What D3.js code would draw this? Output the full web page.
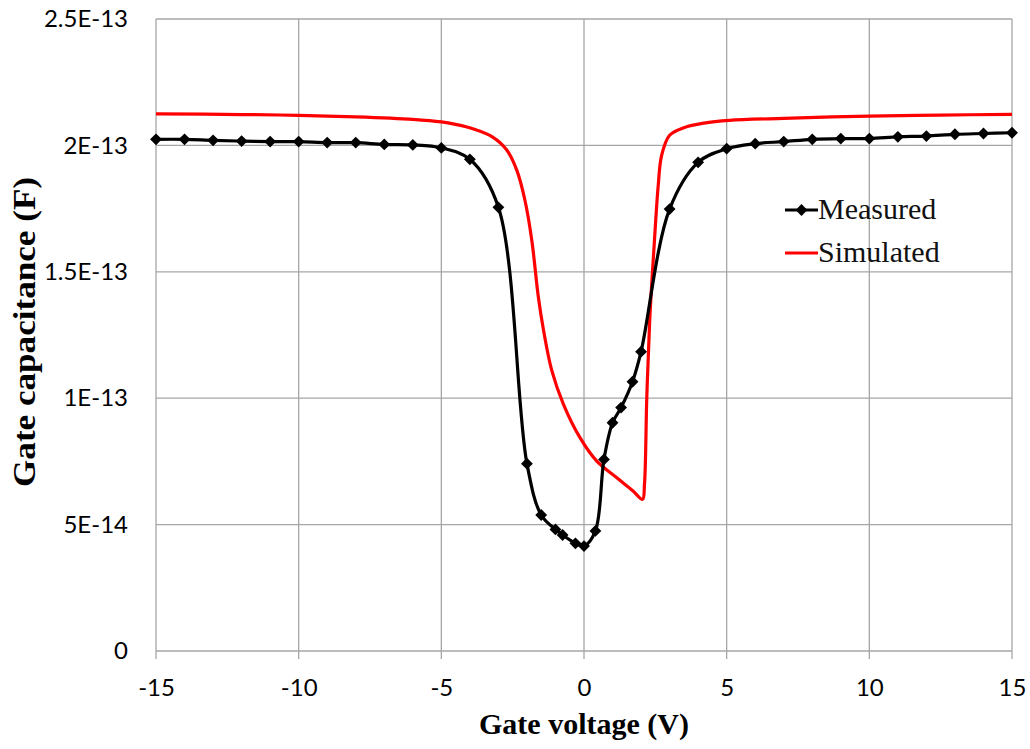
<!DOCTYPE html>
<html>
<head>
<meta charset="utf-8">
<script src="https://cdn.jsdelivr.net/npm/d3@7"></script>
<style>
  body { margin: 0; background: #fff; }
  svg { display: block; }
  .tick text { font-family: Lato, "Open Sans", sans-serif; font-size: 24px; fill: #000; }
  .title { font-family: "Liberation Serif", "DejaVu Serif", serif; font-weight: bold; fill: #000; }
  .legend text { font-family: "Liberation Serif", "DejaVu Serif", serif; font-size: 30px; fill: #111; }
</style>
</head>
<body>
<svg id="chart" width="1030" height="749"></svg>
<script>
// Measured C-V points
const measuredV = [-15, -14, -13, -12, -11, -10, -9, -8, -7, -6, -5, -4, -3, -2, -1.5, -1, -0.75, -0.3, 0,
  0.4, 0.7, 1, 1.3, 1.7, 2, 3, 4, 5, 6, 7, 8, 9, 10, 11, 12, 13, 14, 15];
const measuredC = [2.024e-13, 2.024e-13, 2.02e-13, 2.017e-13, 2.015e-13, 2.015e-13, 2.011e-13, 2.011e-13,
  2.004e-13, 2.002e-13, 1.99e-13, 1.945e-13, 1.755e-13, 7.41e-14, 5.38e-14, 4.81e-14, 4.59e-14, 4.26e-14, 4.15e-14,
  4.75e-14, 7.58e-14, 9.03e-14, 9.63e-14, 1.065e-13, 1.184e-13, 1.748e-13, 1.933e-13, 1.987e-13, 2.007e-13,
  2.015e-13, 2.024e-13, 2.027e-13, 2.027e-13, 2.034e-13, 2.037e-13, 2.044e-13, 2.047e-13, 2.05e-13];

// Simulated curve
const simulatedV = [-15, -12, -10, -8, -6, -5, -4.5, -3.9, -3.2, -2.7, -2.35, -2.07, -1.83, -1.6, -1.42,
  -1.13, -0.72, -0.14, 0.44, 1.14, 1.72, 2.05, 2.12, 2.2, 2.3, 2.4, 2.5, 2.6, 2.72, 3.0, 3.5, 4.2, 5.1, 7, 10, 12.5, 15];
const simulatedC = [2.125e-13, 2.122e-13, 2.119e-13, 2.113e-13, 2.103e-13, 2.093e-13, 2.083e-13, 2.066e-13,
  2.033e-13, 1.981e-13, 1.9e-13, 1.783e-13, 1.625e-13, 1.4e-13, 1.27e-13, 1.11e-13, 9.76e-14, 8.44e-14,
  7.52e-14, 6.86e-14, 6.33e-14, 6.0e-14, 6.6e-14, 1.0e-13, 1.3e-13, 1.5e-13, 1.68e-13, 1.84e-13, 1.96e-13,
  2.04e-13, 2.07e-13, 2.088e-13, 2.099e-13, 2.107e-13, 2.116e-13, 2.12e-13, 2.123e-13];

const xTicks = [-15, -10, -5, 0, 5, 10, 15];
const yTicks = [0, 5e-14, 1e-13, 1.5e-13, 2e-13, 2.5e-13];
const yTickLabels = ['0', '5E-14', '1E-13', '1.5E-13', '2E-13', '2.5E-13'];
const seriesNames = ['Measured', 'Simulated'];

const margin = { left: 156, right: 18, top: 19, bottom: 98 };
const width = 1030, height = 749;

const svg = d3.select('#chart');
const x = d3.scaleLinear().domain([-15, 15]).range([margin.left, width - margin.right]);
const y = d3.scaleLinear().domain([0, 2.5e-13]).range([height - margin.bottom, margin.top]);

// Gridlines
const grid = svg.append('g').attr('stroke', '#a6a6a6').attr('stroke-width', 1.3);
grid.selectAll('line.h').data(yTicks).join('line')
  .attr('x1', x(-15)).attr('x2', x(15))
  .attr('y1', d => y(d)).attr('y2', d => y(d));
grid.selectAll('line.v').data(xTicks).join('line')
  .attr('x1', d => x(d)).attr('x2', d => x(d))
  .attr('y1', y(2.5e-13)).attr('y2', y(0) + 8);

// Axes (labels only, grid drawn above)
const xAxis = svg.append('g').attr('transform', `translate(0,${y(0)})`)
  .call(d3.axisBottom(x).tickValues(xTicks).tickSize(0).tickPadding(28).tickFormat(d => String(d)));
xAxis.select('.domain').remove();

const yAxis = svg.append('g').attr('transform', `translate(${margin.left},0)`)
  .call(d3.axisLeft(y).tickValues(yTicks).tickSize(0).tickPadding(28).tickFormat((d, i) => yTickLabels[i]));
yAxis.select('.domain').remove();

// Lines
const measured = measuredV.map((v, i) => [v, measuredC[i]]);
const simulated = simulatedV.map((v, i) => [v, simulatedC[i]]);

svg.append('path')
  .datum(simulated)
  .attr('fill', 'none')
  .attr('stroke', '#ff0000')
  .attr('stroke-width', 3.2)
  .attr('d', d3.line().x(d => x(d[0])).y(d => y(d[1])).curve(d3.curveCatmullRom.alpha(0.5)));

svg.append('path')
  .datum(measured)
  .attr('fill', 'none')
  .attr('stroke', '#000')
  .attr('stroke-width', 3.2)
  .attr('d', d3.line().x(d => x(d[0])).y(d => y(d[1])).curve(d3.curveCatmullRom.alpha(0.5)));

const diamond = d3.symbol().type(d3.symbolSquare).size(70);
svg.append('g').selectAll('path').data(measured).join('path')
  .attr('d', diamond)
  .attr('fill', '#000')
  .attr('transform', d => `translate(${x(d[0])},${y(d[1])}) rotate(45)`);

// Legend
const legend = svg.append('g').attr('class', 'legend');
const legY = [210, 253];
seriesNames.forEach((name, i) => {
  const g = legend.append('g').attr('transform', `translate(785,${legY[i]})`);
  g.append('line').attr('x1', 0).attr('x2', 33).attr('y1', 0).attr('y2', 0)
    .attr('stroke', i === 0 ? '#000' : '#ff0000').attr('stroke-width', 3.2);
  if (i === 0) {
    g.append('path').attr('d', diamond).attr('fill', '#000').attr('transform', 'translate(16.5,0) rotate(45)');
  }
  g.append('text').attr('x', 33).attr('y', 9).text(name);
});

// Axis titles
svg.append('text').attr('class', 'title')
  .attr('x', x(0)).attr('y', 734).attr('text-anchor', 'middle')
  .style('font-size', '30px')
  .text('Gate voltage (V)');
svg.append('text').attr('class', 'title')
  .attr('transform', 'translate(35,332) rotate(-90)')
  .attr('text-anchor', 'middle')
  .attr('textLength', 310)
  .attr('lengthAdjust', 'spacingAndGlyphs')
  .style('font-size', '31px')
  .text('Gate capacitance (F)');
</script>
</body>
</html>
